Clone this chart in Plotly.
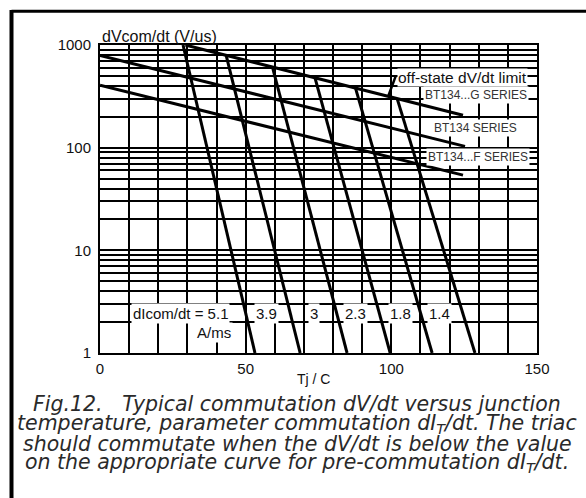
import plotly.graph_objects as go
import math

# ---- data ----
tj_g = [29.3, 124.6]
dv_g = [1000, 207]
tj_std = [0, 125.3]
dv_std = [790, 103]
tj_f = [0, 124.6]
dv_f = [405, 54]

dicom_labels = ["dIcom/dt = 5.1", "3.9", "3", "2.3", "1.8", "1.4"]
tj_top = [28.5, 43.3, 59.2, 73.8, 87.7, 102.0]
dv_top = [1000, 792, 610, 479, 380, 300]
tj_bottom = [53.2, 68.7, 84.8, 99.6, 114.0, 128.7]
dv_bottom = [1, 1, 1, 1, 1, 1]
label_tj = [27.8, 57.2, 73.5, 87.7, 103.0, 116.4]
label_dv = 2.45
units_tj = 39.3
units_dv = 1.57

series_names = ["BT134...G SERIES", "BT134 SERIES", "BT134...F SERIES"]
series_label_tj = [129.0, 128.9, 129.8]
series_label_dv = [324, 154, 81]
offstate_tj = 124.3
offstate_dv = 484
leader_tj = [101.6, 99.0]
leader_dv = [506, 320]

x_ticks = [0, 50, 100, 150]
y_ticks = [1, 10, 100, 1000]

FONT = "Liberation Sans, Arial, sans-serif"
CAP_FONT = "DejaVu Sans, sans-serif"

fig = go.Figure()
line_style = dict(color="black", width=3)
for xs, ys in [(tj_g, dv_g), (tj_std, dv_std), (tj_f, dv_f)]:
    fig.add_trace(go.Scatter(x=xs, y=ys, mode="lines", line=line_style,
                             showlegend=False, hoverinfo="skip"))
for i in range(len(tj_top)):
    fig.add_trace(go.Scatter(x=[tj_top[i], tj_bottom[i]], y=[dv_top[i], dv_bottom[i]],
                             mode="lines", line=line_style, showlegend=False,
                             hoverinfo="skip"))
fig.add_trace(go.Scatter(x=leader_tj, y=leader_dv, mode="lines",
                         line=dict(color="black", width=2.5), showlegend=False,
                         hoverinfo="skip"))

annotations = []
for t, tx in zip(label_tj, dicom_labels):
    annotations.append(dict(x=t, y=math.log10(label_dv), xref="x", yref="y",
                            text=tx, showarrow=False, bgcolor="white", borderpad=1,
                            font=dict(family=FONT, size=15, color="#111")))
annotations.append(dict(x=units_tj, y=math.log10(units_dv), xref="x", yref="y",
                        text="A/ms", showarrow=False, bgcolor="white", borderpad=1,
                        font=dict(family=FONT, size=15, color="#111")))
for t, v, tx in zip(series_label_tj, series_label_dv, series_names):
    annotations.append(dict(x=t, y=math.log10(v), xref="x", yref="y", text=tx,
                            showarrow=False, bgcolor="white", borderpad=1,
                            font=dict(family=FONT, size=12, color="#333")))
annotations.append(dict(x=offstate_tj, y=math.log10(offstate_dv), xref="x", yref="y",
                        text="off-state dV/dt limit", showarrow=False, bgcolor="white",
                        borderpad=0, font=dict(family=FONT, size=15.5, color="#111")))
annotations.append(dict(x=0, y=1, xref="paper", yref="paper", xanchor="left",
                        yanchor="bottom", yshift=-2, text="dVcom/dt (V/us)",
                        showarrow=False, font=dict(family=FONT, size=16, color="#111")))
annotations.append(dict(x=(313 - 100) / 437, y=(353 - 379) / 308.5, xref="paper",
                        yref="paper", xanchor="center", yanchor="middle",
                        text="Tj / C", showarrow=False,
                        font=dict(family=FONT, size=14, color="#111")))

caption = [
    "Fig.12.   Typical commutation dV/dt versus junction",
    "temperature, parameter commutation dI<sub>T</sub>/dt. The triac",
    "should commutate when the dV/dt is below the value",
    "on the appropriate curve for pre-commutation dI<sub>T</sub>/dt.",
]
cap_y_px = [404, 424, 444, 463]
for tx, ypx in zip(caption, cap_y_px):
    annotations.append(dict(x=(297 - 100) / 437, y=(353 - ypx) / 308.5,
                            xref="paper", yref="paper", xanchor="center",
                            yanchor="middle", text="<i>" + tx + "</i>",
                            showarrow=False,
                            font=dict(family=CAP_FONT, size=20.5, color="#2a2a2a")))

shapes = [
    dict(type="line", xref="paper", yref="paper", x0=(11.5 - 100) / 437,
         x1=(590 - 100) / 437, y0=1 + (44.5 - 10.8) / 308.5, y1=1 + (44.5 - 10.8) / 308.5,
         line=dict(color="black", width=3)),
    dict(type="line", xref="paper", yref="paper", x0=(11.5 - 100) / 437,
         x1=(11.5 - 100) / 437, y0=1 + (44.5 - 9.5) / 308.5, y1=(353 - 500) / 308.5,
         line=dict(color="black", width=4)),
]

fig.update_layout(
    width=586, height=498,
    margin=dict(l=100, r=49, t=44.5, b=145),
    paper_bgcolor="white", plot_bgcolor="white",
    annotations=annotations, shapes=shapes,
    xaxis=dict(range=[0, 150], tickvals=x_ticks, ticktext=[str(v) for v in x_ticks],
               showgrid=True, gridcolor="black", gridwidth=2,
               minor=dict(dtick=10, showgrid=True, gridcolor="black", gridwidth=2),
               showline=True, linecolor="black", linewidth=2, mirror=True,
               ticks="", zeroline=False, ticklabelstandoff=1,
               tickfont=dict(family=FONT, size=15, color="#111")),
    yaxis=dict(type="log", range=[0, 3], tickvals=y_ticks,
               ticktext=[str(v) for v in y_ticks],
               showgrid=True, gridcolor="black", gridwidth=2,
               minor=dict(dtick="D1", showgrid=True, gridcolor="black", gridwidth=2),
               showline=True, linecolor="black", linewidth=2, mirror=True,
               ticks="", zeroline=False, ticklabelstandoff=4,
               tickfont=dict(family=FONT, size=15, color="#111")),
)

fig.write_html("out.html")
